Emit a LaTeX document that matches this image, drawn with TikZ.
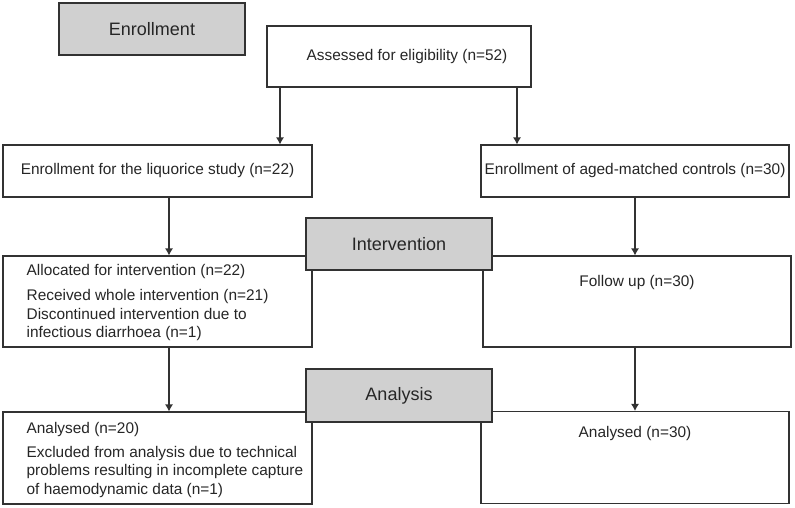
\documentclass[tikz,border=0pt]{standalone}
\usepackage{fontspec}
\setmainfont{Liberation Sans}
\usetikzlibrary{positioning,arrows.meta}
\definecolor{hdrgray}{RGB}{208,208,208}
\definecolor{linegray}{RGB}{50,50,50}
\tikzset{
  box/.style={rectangle, draw=linegray, line width=1.1pt, fill=white, inner sep=0pt, text=black!85, font=\fontsize{15.4}{18.5}\selectfont},
  header/.style={box, fill=hdrgray, minimum width=186pt, minimum height=52pt, font=\fontsize{18}{21}\selectfont},
  txt/.style={inner sep=0pt, align=left, text=black!85, font=\fontsize{15.4}{18.5}\selectfont},
  connect/.style={-{Latex[length=7pt,width=8pt]}, line width=1.1pt, draw=linegray}
}

\begin{document}
\begin{tikzpicture}[x=1pt, y=-1pt]
      \useasboundingbox (0,0) rectangle (795,507);
      \node[box, minimum width=264pt, minimum height=61pt] (Assess) at (399,56.5) {\hspace{16pt}Assessed for eligibility (n=52)};
      \node[box, minimum width=309pt, minimum height=52pt] (Liq) at (157.5,171) {Enrollment for the liquorice study (n=22)};
      \node[box, minimum width=308pt, minimum height=52pt] (Ctrl) at (635,171) {Enrollment of aged-matched controls (n=30)};
      \node[box, minimum width=309pt, minimum height=91pt] (Alloc) at (157.5,301.5) {};
      \node[box, minimum width=308pt, minimum height=91pt] (Follow) at (637,301.5) {};
      \node[box, minimum width=309pt, minimum height=92pt] (AnL) at (157.5,458) {};
      \node[box, minimum width=308pt, minimum height=92pt] (AnR) at (635,457.5) {};

      % stage headers go on top of the boxes
      \node[header] (Enroll) at (152,29) {Enrollment};
      \node[header] (Interv) at (399,244) {Intervention};
      \node[header, minimum height=53pt] (Analysis) at (399,395.5) {Analysis};

      \node[txt, below right=8.3pt and 24pt of Alloc.north west] (AllocTxt)
        {Allocated for intervention (n=22)\\[6.5pt]Received whole intervention (n=21)\\[0.5pt]Discontinued intervention due to\\infectious diarrhoea (n=1)};
      \node[txt, below=20pt of Follow.north] (FollowTxt) {Follow up (n=30)};
      \node[txt, below right=10.3pt and 24pt of AnL.north west] (AnLTxt)
        {Analysed (n=20)\\[5.5pt]Excluded from analysis due to technical\\problems resulting in incomplete capture\\of haemodynamic data (n=1)};
      \node[txt, below=15pt of AnR.north] (AnRTxt) {Analysed (n=30)};

      \draw[connect] ([xshift=-119pt]Assess.south) -- ([xshift=-119pt]Assess.south |- Liq.north);
      \draw[connect] ([xshift=118pt]Assess.south) -- ([xshift=118pt]Assess.south |- Ctrl.north);
      \draw[connect] ([xshift=11.5pt]Liq.south) -- ([xshift=11.5pt]Alloc.north);
      \draw[connect] (Ctrl.south) -- (Ctrl.south |- Follow.north);
      \draw[connect] ([xshift=11.5pt]Alloc.south) -- ([xshift=11.5pt]AnL.north);
      \draw[connect] (AnR.north |- Follow.south) -- (AnR.north);
\end{tikzpicture}
\end{document}
